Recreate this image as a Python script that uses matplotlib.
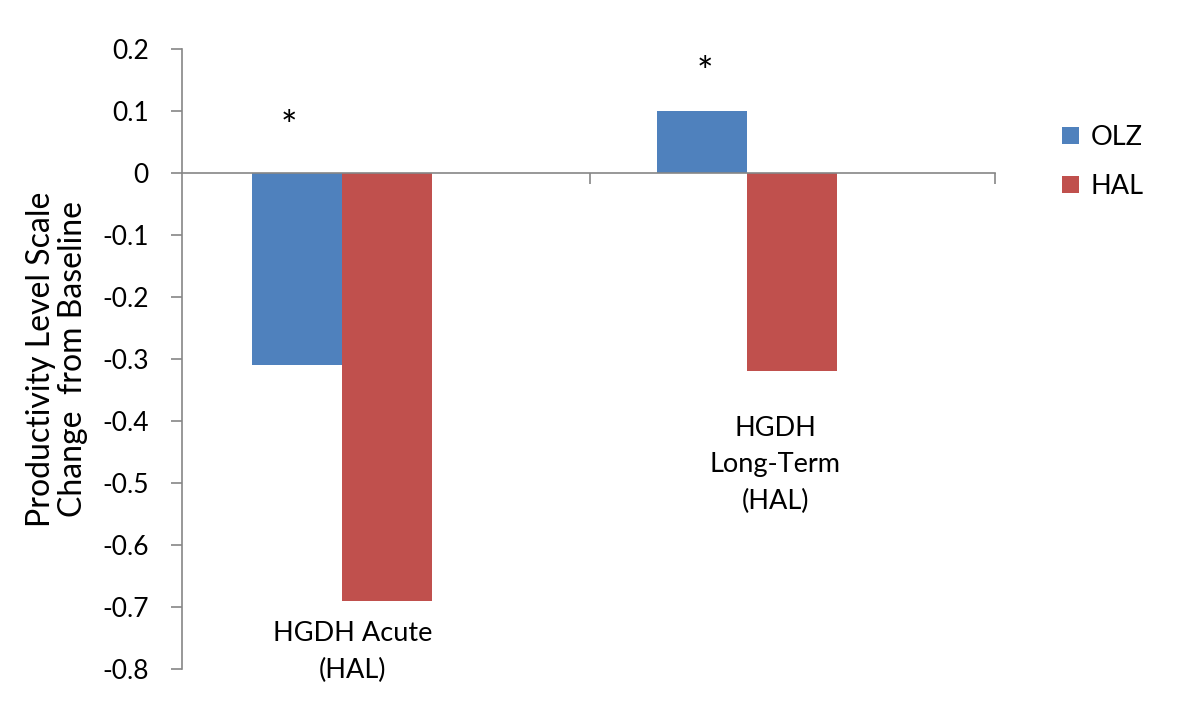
import numpy as np
import matplotlib.pyplot as plt

plt.rcParams['font.family'] = ['Lato', 'DejaVu Sans']

# data
groups = ['HGDH Acute\n(HAL)', 'HGDH\nLong-Term\n(HAL)']
olz = [-0.31, 0.10]
hal = [-0.69, -0.32]

blue = '#4F81BD'
red = '#C0504D'
grey = '#868686'
fs = 19.5

fig = plt.figure(figsize=(12, 7.26), dpi=100)
ax = fig.add_axes([0.1517, 0.0785, 0.829 - 0.1517, 0.9325 - 0.0785])

x = np.arange(len(groups))
w = 0.222
ax.bar(x - w / 2, olz, w, color=blue, label='OLZ')
ax.bar(x + w / 2, hal, w, color=red, label='HAL')

ax.set_ylim(-0.8, 0.2)
ax.set_xlim(-0.395, 1.612)
ax.set_yticks(np.arange(-0.8, 0.21, 0.1))
ax.set_yticklabels(['-0.8', '-0.7', '-0.6', '-0.5', '-0.4', '-0.3', '-0.2',
                    '-0.1', '0', '0.1', '0.2'])
ax.tick_params(axis='y', labelsize=19, length=8, color=grey, width=1.2, pad=16)

# x axis drawn at zero
ax.spines['top'].set_visible(False)
ax.spines['right'].set_visible(False)
ax.spines['bottom'].set_position(('data', 0))
ax.spines['bottom'].set_color(grey)
ax.spines['bottom'].set_linewidth(1.2)
ax.spines['left'].set_color(grey)
ax.spines['left'].set_linewidth(1.2)
ax.set_xticks([0.612, 1.612])
ax.set_xticklabels([])
ax.tick_params(axis='x', length=8, color=grey, width=1.2, direction='out')

ax.set_ylabel('Productivity Level Scale\nChange  from Baseline', fontsize=23,
              linespacing=1.1)
ax.yaxis.set_label_coords(-0.1156, 0.5)

# category labels as text boxes
ax.text(0.027, -0.773, groups[0], ha='center', va='center', fontsize=fs, linespacing=1.6)
ax.text(1.07, -0.471, groups[1], ha='center', va='center', fontsize=fs, linespacing=1.55)

# significance marks
ax.text(-0.131, 0.072, '*', ha='center', va='center', fontsize=28)
ax.text(0.896, 0.159, '*', ha='center', va='center', fontsize=28)

ax.legend(loc='center left', bbox_to_anchor=(1.083, 0.8175), frameon=False,
          fontsize=fs, handlelength=0.6, handleheight=0.6, labelspacing=0.9,
          handletextpad=0.45, borderpad=0, borderaxespad=0)

fig.savefig('out.png', dpi=100)
